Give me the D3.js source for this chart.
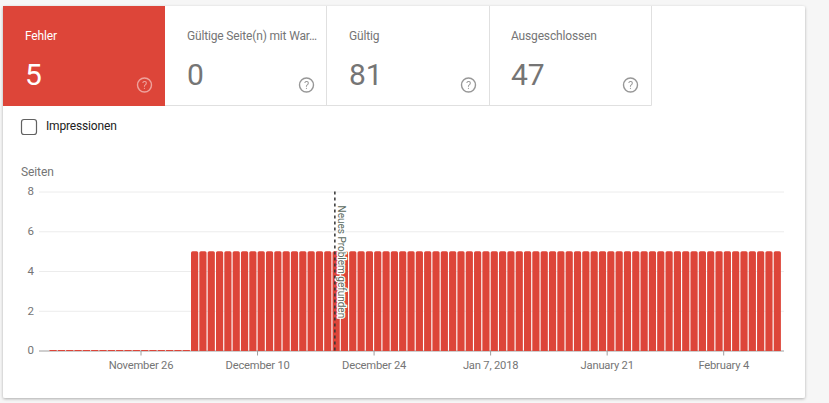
<!DOCTYPE html>
<html><head><meta charset="utf-8">
<script src="https://cdn.jsdelivr.net/npm/d3@7"></script>
<style>
html,body{margin:0;padding:0;background:#f6f6f6;width:829px;height:403px;overflow:hidden}
svg{display:block;font-family:Roboto,sans-serif}
</style></head><body>
<svg id="c" width="829" height="403"></svg>
<script>
const tileLabels=["Fehler","Gültige Seite(n) mit War…","Gültig","Ausgeschlossen"];
const tileValues=["5","0","81","47"];
const checkboxLabel="Impressionen";
const axisTitle="Seiten";
const firstDay="2017-11-15";
const pages=[0,0,0,0,0,0,0,0,0,0,0,0,0,0,0,0,0,
5,5,5,5,5,5,5,5,5,5,5,5,5,5,5,5,5,5,5,5,5,5,5,5,5,5,5,5,5,5,5,5,5,5,
5,5,5,5,5,5,5,5,5,5,5,5,5,5,5,5,5,5,5,5,5,5,5,5,5,5,5,5,5,5,5,5,5,5,5,5,5];
const yTicks=[0,2,4,6,8];
const xTickDates=["2017-11-26","2017-12-10","2017-12-24","2018-01-07","2018-01-21","2018-02-04"];
const xTickLabels=["November 26","December 10","December 24","Jan 7, 2018","January 21","February 4"];
const annotationDate="2017-12-19";
const annotationText="Neues Problem gefunden";

const RED="#dd4539", GREY="#757575";
const parse=d3.utcParse("%Y-%m-%d");
const svg=d3.select("#c");

// card
const defs=svg.append("defs");
const f=defs.append("filter").attr("id","sh").attr("x","-2%").attr("y","-2%").attr("width","104%").attr("height","104%");
f.append("feDropShadow").attr("dx",0).attr("dy",1).attr("stdDeviation",1.5).attr("flood-color","#000").attr("flood-opacity",.3);
svg.append("rect").attr("x",3).attr("y",6).attr("width",802).attr("height",392).attr("rx",2).attr("fill","#fff").attr("filter","url(#sh)");

// tiles
const tileX=d3.scaleOrdinal().domain(tileLabels).range([3,165,327,489]);
const tiles=svg.selectAll("g.tile").data(tileLabels).join("g").attr("class","tile")
  .attr("transform",d=>`translate(${tileX(d)},6)`);
tiles.append("rect").attr("width",162).attr("height",100)
  .attr("fill",(d,i)=>i===0?RED:"#fff");
svg.append("path").attr("fill","none").attr("stroke","#e0e0e0").attr("stroke-width",1)
  .attr("d","M165,105.5H651.5V6M326.5,6V105.5M489.5,6V105.5");
tiles.append("text").attr("x",22).attr("y",34).attr("font-size",12).attr("letter-spacing","-0.16px")
  .attr("fill",(d,i)=>i===0?"#fff":GREY).text(d=>d);
tiles.append("text").attr("x",22).attr("y",79).attr("font-size",30)
  .attr("fill",(d,i)=>i===0?"#fff":GREY).text((d,i)=>tileValues[i]);
const help=tiles.append("g").attr("transform","translate(141.5,79)")
  .attr("opacity",(d,i)=>i===0?.5:.75);
help.append("circle").attr("r",7).attr("fill","none").attr("stroke-width",1.4)
  .attr("stroke",(d,i)=>i===0?"#fff":"#757575");
help.append("text").attr("text-anchor","middle").attr("y",4).attr("font-size",11)
  .attr("fill",(d,i)=>i===0?"#fff":"#757575").text("?");

// checkbox
svg.append("rect").attr("x",21.5).attr("y",119.5).attr("width",15).attr("height",15).attr("rx",2.5)
  .attr("fill","#fff").attr("stroke","#616161").attr("stroke-width",1.2);
svg.append("text").attr("x",46).attr("y",130).attr("font-size",12).attr("letter-spacing","-0.16px").attr("fill","#212121").text(checkboxLabel);

// chart
svg.append("text").attr("x",21).attr("y",176).attr("font-size",12).attr("letter-spacing","-0.1px").attr("fill",GREY).text(axisTitle);
const dayMs=864e5, d0=parse(firstDay);
const dates=pages.map((v,i)=>new Date(+d0+i*dayMs));
const x=d3.scaleUtc().domain([parse("2017-11-26"),parse("2018-02-04")]).range([140.5,723.2]);
const y=d3.scaleLinear().domain([0,8]).range([350.5,191.5]);
const L=39,R=784;

const gy=svg.append("g").attr("transform",`translate(${L},0)`)
  .call(d3.axisLeft(y).tickValues(yTicks).tickSize(0).tickPadding(5).tickFormat(d3.format("d")));
gy.select(".domain").remove();
gy.selectAll("line").attr("x2",R-L).attr("stroke",d=>d===0?"#9e9e9e":"#ececec");
gy.selectAll("text").attr("font-size",11.5).attr("fill",GREY).attr("font-family","Roboto").attr("dy","0.3em");

const barW=7.2;
const barPath=(d,i)=>{
  const c=x(new Date(+dates[i]+dayMs/2)), y1=y(0);
  if(d===0) return `M${c-barW/2},${y1-.5}h${barW}v1h${-barW}z`;
  const t=y(d), r=1.6, l=c-barW/2;
  return `M${l},${y1+.5}V${t+r}Q${l},${t} ${l+r},${t}H${l+barW-r}Q${l+barW},${t} ${l+barW},${t+r}V${y1+.5}Z`;
};
svg.append("g").selectAll("path").data(pages).join("path").attr("d",barPath)
  .attr("fill",RED);

const gx=svg.append("g").attr("transform",`translate(0,${y(0)})`)
  .call(d3.axisBottom(x).tickValues(xTickDates.map(parse)).tickSize(5).tickPadding(6)
    .tickFormat((d,i)=>xTickLabels[i]));
gx.select(".domain").remove();
gx.selectAll("line").attr("stroke","#9e9e9e");
gx.selectAll("text").attr("font-size",11.2).attr("letter-spacing","-0.2px").attr("fill",GREY).attr("font-family","Roboto");

// annotation
const ax=x(parse(annotationDate))+2.9;
const tx=ax+3;
svg.append("text").attr("transform",`translate(${tx},205.5) rotate(90)`)
  .attr("font-size",10).attr("fill","#5a6a60").attr("stroke","#fff").attr("stroke-width",2.5)
  .attr("paint-order","stroke").attr("stroke-linejoin","round").text(annotationText);
svg.append("line").attr("x1",ax).attr("x2",ax).attr("y1",y(8)).attr("y2",y(0))
  .attr("stroke","#333").attr("stroke-width",1.5).attr("stroke-dasharray","3 3");
</script>
</body></html>
